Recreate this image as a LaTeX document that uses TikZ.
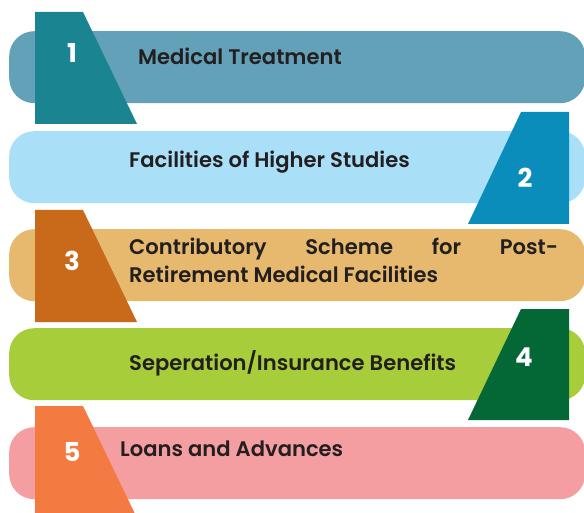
\documentclass[tikz,border=0pt]{standalone}
\usepackage{fontspec}
\setmainfont{Poppins}[BoldFont={Poppins SemiBold}]
\newfontfamily\numfont{Poppins}
\usepackage{xcolor}
\definecolor{barone}{RGB}{98,161,183}
\definecolor{tabone}{RGB}{26,133,144}
\definecolor{bartwo}{RGB}{170,223,248}
\definecolor{tabtwo}{RGB}{10,141,186}
\definecolor{barthree}{RGB}{230,185,110}
\definecolor{tabthree}{RGB}{200,106,26}
\definecolor{barfour}{RGB}{168,205,58}
\definecolor{tabfour}{RGB}{3,104,54}
\definecolor{barfive}{RGB}{245,158,162}
\definecolor{tabfive}{RGB}{243,123,66}
\definecolor{textblack}{RGB}{35,31,32}

\begin{document}
\begin{tikzpicture}[
  x=1pt, y=-1pt,
  bar/.style={rectangle, rounded corners=25pt, anchor=north west, minimum width=576, minimum height=72, inner sep=0pt},
  num/.style={text=white, font=\numfont\fontsize{26}{30}\selectfont\bfseries, inner sep=0pt},
  label/.style={anchor=base west, text=textblack, font=\fontsize{21.1}{28}\selectfont\bfseries, inner sep=0pt}
]
\clip (0,0) rectangle (584,513);

% bars
\node[bar, fill=barone] (bar1) at (9,31) {};
\node[bar, fill=bartwo] (bar2) at (9,131) {};
\node[bar, fill=barthree] (bar3) at (9,229) {};
\node[bar, fill=barfour] (bar4) at (9,328) {};
\node[bar, fill=barfive] (bar5) at (9,427) {};

% number tabs
\fill[tabone] (35,12) -- (83,12) -- (137,124) -- (35,124) -- cycle;
\fill[tabtwo] (521,112) -- (569,112) -- (569,224) -- (468,224) -- cycle;
\fill[tabthree] (35,210) -- (83,210) -- (137,322) -- (35,322) -- cycle;
\fill[tabfour] (521,309) -- (569,309) -- (569,420) -- (468,420) -- cycle;
\fill[tabfive] (35,406) -- (83,406) -- (137,518) -- (35,518) -- cycle;

\node[num] (n1) at (72,53) {1};
\node[num] (n2) at (525,178) {2};
\node[num] (n3) at (72,261) {3};
\node[num] (n4) at (524,357) {4};
\node[num] (n5) at (72,452) {5};

% labels
\node[label] (t1) at (138,65) {Medical Treatment};
\node[label] (t2) at (129,168) {Facilities of Higher Studies};
\node[label, anchor=north west, text width=429, align=justify] (t3) at (129,238)
  {Contributory Scheme for Post-\linebreak Retirement Medical Facilities};
\node[label] (t4) at (129,370) {Seperation/Insurance Benefits};
\node[label] (t5) at (120,456) {Loans and Advances};
\end{tikzpicture}
\end{document}
